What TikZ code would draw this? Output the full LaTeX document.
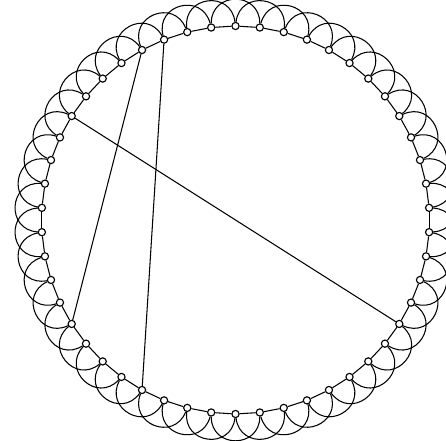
\documentclass[tikz,border=0pt]{standalone}
\usetikzlibrary{calc}
\tikzset{
  vertex/.style={circle,draw,fill=white,inner sep=0pt,minimum size=0.18cm,line width=0.8pt},
  link/.style={line width=0.75pt},
  hop/.style={line width=0.75pt,bend right=90,looseness=1.7},
  chord/.style={line width=0.75pt}
}
\begin{document}
\begin{tikzpicture}[x=0.025cm,y=0.025cm]
  \useasboundingbox (-235.5,-220) rectangle (210.5,220);
  % ring of vertices
  \foreach \i in {0,...,49}
    \node[vertex] (v\i) at ({90+7.2*\i}:194) {};
  % neighbours and second neighbours
  \foreach \i in {0,...,49} {
    \pgfmathtruncatemacro\j{mod(\i+1,50)}
    \pgfmathtruncatemacro\k{mod(\i+2,50)}
    \draw[link] (v\i) -- (v\j);
    \draw[hop] (v\i) to (v\k);
  }
  % long-range edges
  \draw[chord] (v4) -- (v17);
  \draw[chord] (v3) -- (v21);
  \draw[chord] (v8) -- (v33);
\end{tikzpicture}
\end{document}
